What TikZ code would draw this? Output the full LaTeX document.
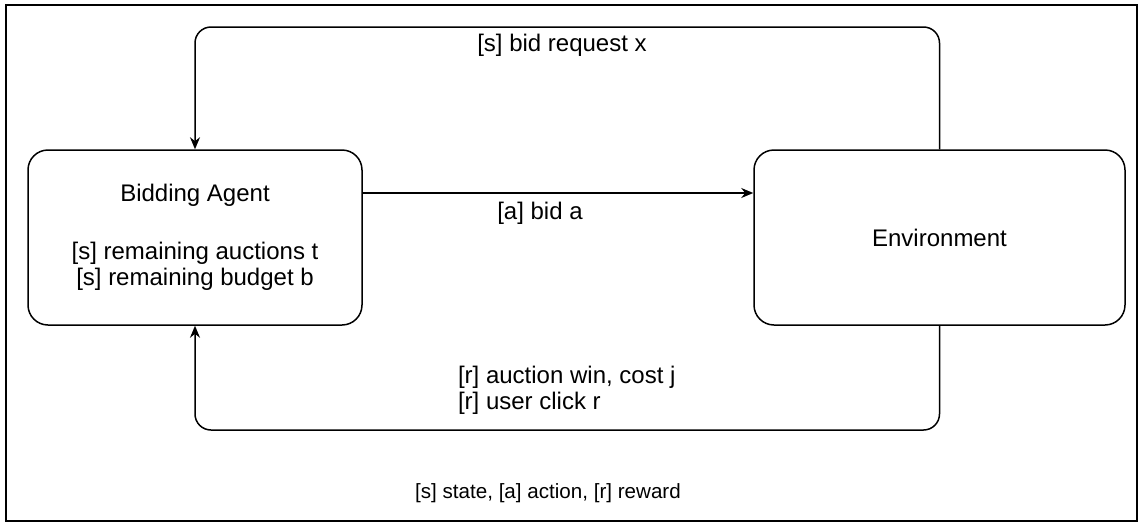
\documentclass[tikz,border=0pt]{standalone}
\usepackage{fontspec}
\setmainfont{Liberation Sans}
\usepackage{tikz}
\usetikzlibrary{shapes,arrows,arrows.meta,positioning}

\begin{document}
\begin{tikzpicture}[
  x=0.5pt, y=-0.5pt,
  box/.style={draw,rounded corners=10pt,line width=0.75pt,align=center,
    minimum height=87.5pt,font=\fontsize{12}{13}\selectfont},
  flow/.style={->,>={Stealth[length=6pt,width=5pt]},line width=0.75pt},
  loopline/.style={flow,rounded corners=8pt},
  lbl/.style={font=\fontsize{12}{13}\selectfont}
]
\useasboundingbox (0,0) rectangle (1147,525);

% Frame
\draw[line width=1.3pt] (6,5) rectangle (1137,521);

% Boxes
\node[box,minimum width=167pt] (agent) at (195,237.5)
  {Bidding Agent\\[16pt]{[s]} remaining auctions t\\{[s]} remaining budget b};
\node[box,minimum width=185.5pt] (env) at (939.5,237.5) {Environment};

% Action
\draw[flow] ([yshift=22.25pt]agent.east) -- ([yshift=22.25pt]env.west)
  node[midway,below=1pt,xshift=-9pt,lbl] (bidlbl) {[a] bid a};

% State loop
\coordinate (toprow) at (0,27);
\draw[loopline] (env.north) -- (env.north |- toprow) -| (agent.north);
\node[lbl] (reqlbl) at (562,45) {[s] bid request x};

% Reward loop
\coordinate (botrow) at (0,430);
\draw[loopline] (env.south) -- (env.south |- botrow) -| (agent.south);
\node[lbl,anchor=west,align=left] (rewlbl) at (451,390)
  {[r] auction win, cost j\\{[r]} user click r};

% Legend
\node[font=\fontsize{10.3}{12}\selectfont] (legend) at (548,493)
  {[s] state, [a] action, [r] reward};

\end{tikzpicture}
\end{document}
